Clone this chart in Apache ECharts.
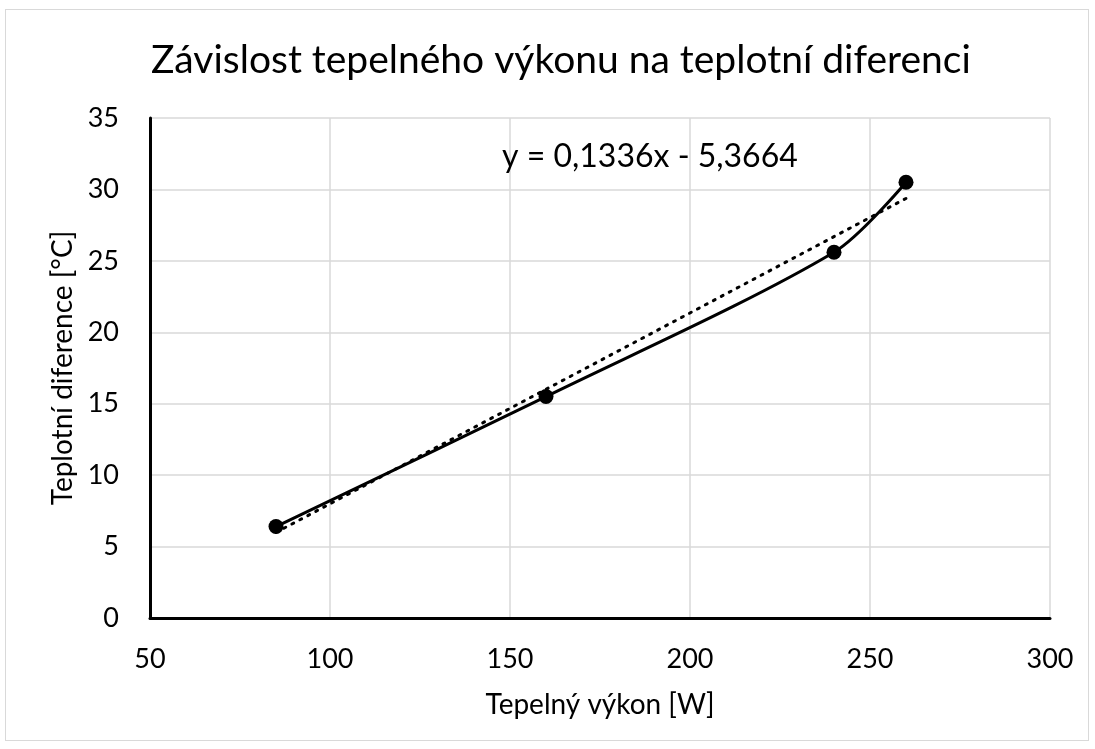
<!DOCTYPE html>
<html>
<head>
<meta charset="utf-8">
<script src="https://cdn.jsdelivr.net/npm/echarts@6/dist/echarts.min.js"></script>
<style>
  html, body { margin: 0; padding: 0; background: #fff; }
  #frame { position: absolute; left: 5px; top: 9px; width: 1084px; height: 732px; border: 1px solid #d9d9d9; box-sizing: border-box; }
  #chart { width: 1095px; height: 749px; }
</style>
</head>
<body>
<div id="frame"></div>
<div id="chart"></div>
<script>
// measured points
var power = [85, 160, 240, 260];
var tempDiff = [6.4, 15.5, 25.6, 30.5];

// linear trendline from the label
var slope = 0.1336;
var intercept = -5.3664;
var trendX = [85, 260];

var measured = [];
for (var i = 0; i < power.length; i++) {
    measured.push([power[i], tempDiff[i]]);
}
var trend = [];
for (var j = 0; j < trendX.length; j++) {
    trend.push([trendX[j], slope * trendX[j] + intercept]);
}

var font = 'Lato, "Open Sans", sans-serif';
var chart = echarts.init(document.getElementById('chart'));

var options = {
    animation: false,
    title: {
        text: 'Závislost tepelného výkonu na teplotní diferenci',
        left: 146,
        top: 36,
        textStyle: { fontFamily: font, fontSize: 39, fontWeight: 'normal', color: '#000' }
    },
    grid: { left: 150, right: 45, top: 118, bottom: 131, containLabel: false },
    xAxis: {
        type: 'value',
        min: 50, max: 300, interval: 50,
        name: 'Tepelný výkon [W]',
        nameLocation: 'middle',
        nameGap: 73,
        nameTextStyle: { fontFamily: font, fontSize: 28, color: '#000' },
        axisLine: { show: true, onZero: false, lineStyle: { color: '#000', width: 3 } },
        axisTick: { show: false },
        axisLabel: { fontFamily: font, fontSize: 27, color: '#000', margin: 28 },
        splitLine: { show: true, lineStyle: { color: '#d9d9d9', width: 1.5 } }
    },
    yAxis: {
        type: 'value',
        min: 0, max: 35, interval: 5,
        name: 'Teplotní diference [°C]',
        nameLocation: 'middle',
        nameGap: 71,
        nameTextStyle: { fontFamily: font, fontSize: 28, color: '#000' },
        axisLine: { show: true, onZero: false, lineStyle: { color: '#000', width: 3 } },
        axisTick: { show: false },
        axisLabel: { fontFamily: font, fontSize: 27, color: '#000', margin: 31 },
        splitLine: { show: true, lineStyle: { color: '#d9d9d9', width: 1.5 } }
    },
    series: [{
        name: 'Měření',
        type: 'line',
        data: measured,
        smooth: 0.3,
        symbol: 'circle',
        symbolSize: 15,
        itemStyle: { color: '#000' },
        lineStyle: { color: '#000', width: 3 },
        z: 3
    }, {
        name: 'Trend',
        type: 'line',
        data: trend,
        symbol: 'none',
        lineStyle: { color: '#000', width: 3, type: [2, 7], cap: 'round' },
        z: 2
    }],
    graphic: [{
        type: 'text',
        x: 502,
        y: 157,
        z: 10,
        style: { text: 'y = 0,1336x - 5,3664', font: '32px ' + font, fill: '#000', verticalAlign: 'middle' }
    }]
};

chart.setOption(options);
</script>
</body>
</html>
